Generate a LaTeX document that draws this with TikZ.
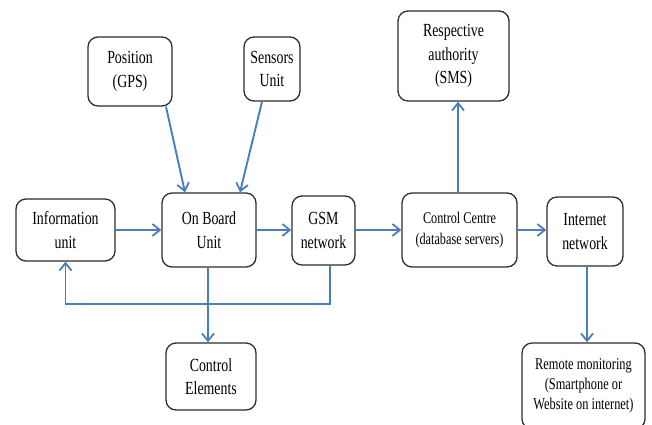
\documentclass[tikz,border=0pt]{standalone}
\usepackage{fontspec}
\setmainfont{Liberation Serif}[FakeStretch=0.75]
\usetikzlibrary{arrows.meta,calc}
\definecolor{linkblue}{RGB}{74,126,187}
\definecolor{boxline}{RGB}{45,45,45}
\begin{document}
\begin{tikzpicture}[x=1pt,y=-1pt,
  box/.style={draw=boxline,line width=1.3pt,rounded corners=10pt,align=center,inner sep=2pt,
    font=\fontsize{18.5}{23.5}\selectfont},
  smallbox/.style={box,font=\fontsize{16.3}{21.5}\selectfont},
  arr/.style={draw=linkblue,line width=1.9pt,-{Straight Barb[length=7.5pt,width=12pt,line width=1.8pt]}},
  plain/.style={draw=linkblue,line width=1.9pt}]
\useasboundingbox (0,0) rectangle (652,424);
\node[box,minimum width=84pt,minimum height=69pt] (pos) at (130,71.5) {Position\\(GPS)};
\node[box,minimum width=56pt,minimum height=64pt] (sens) at (272,69) {Sensors\\Unit};
\node[box,minimum width=99pt,minimum height=62pt] (info) at (65.5,230) {Information\\unit};
\node[box,minimum width=94pt,minimum height=74pt] (obu) at (209,230) {On Board\\Unit};
\node[box,minimum width=63pt,minimum height=69pt] (gsm) at (323.5,230.5) {GSM\\network};
\node[smallbox,minimum width=115pt,minimum height=74pt] (cc) at (459.5,230) {Control Centre\\(database servers)};
\node[box,minimum width=76pt,minimum height=69pt] (inet) at (585,231.5) {Internet\\network};
\node[box,minimum width=111pt,minimum height=90pt] (resp) at (453.5,56) {Respective\\authority\\(SMS)};
\node[box,minimum width=90pt,minimum height=67pt] (ctrl) at (211,376.5) {Control\\Elements};
\node[box,font=\fontsize{16.5}{20}\selectfont,minimum width=123pt,minimum height=86pt] (remote) at (583.5,386) {Remote monitoring\\(Smartphone or\\Website on internet)};
\draw[arr] ([xshift=36pt]pos.south) -- ([xshift=-24pt]obu.north);
\draw[arr] ([xshift=-10pt]sens.south) -- ([xshift=31pt]obu.north);
\draw[arr] (info.east) -- (obu.west);
\draw[arr] (obu.east) -- (obu.east -| gsm.west);
\draw[arr] (gsm.east |- cc.west) -- (cc.west);
\draw[arr] (cc.east) -- (cc.east -| inet.west);
\draw[arr] ([xshift=-1.5pt]cc.north) -- ([xshift=-1.5pt]cc.north |- resp.south);
\draw[arr] ([xshift=2pt]inet.south) -- ([xshift=2pt]inet.south |- remote.north);
\draw[arr] ([xshift=-1pt]obu.south) -- ([xshift=-1pt]obu.south |- ctrl.north);
\draw[arr] ([xshift=6.5pt]gsm.south) |- ($(info.south)+(0,42)$) -- (info.south);
\end{tikzpicture}
\end{document}
